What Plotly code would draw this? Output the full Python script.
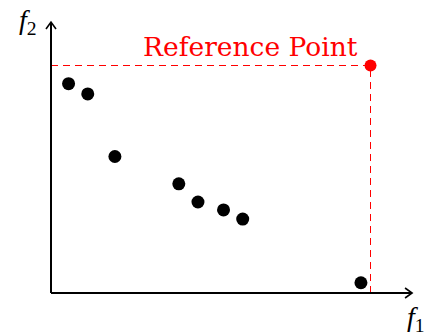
import plotly.graph_objects as go

# Objective values of the candidate solutions (f1, f2)
f1_values = [0.55, 1.15, 2.0, 4.0, 4.6, 5.4, 6.0, 9.7]
f2_values = [9.2, 8.75, 6.0, 4.8, 4.0, 3.65, 3.25, 0.45]

# Reference point used for the hypervolume
ref_f1 = 10.0
ref_f2 = 10.0
ref_label = "Reference Point"

# Axis extents (the arrows stop at these values)
x_tip = 11.30
y_tip = 11.91
x_range = [-1.596, 11.674]
y_range = [-1.890, 12.879]

# Pixel scale of the plotting area, used for the arrow heads
W, H = 424, 336
px_x = W / (x_range[1] - x_range[0])
px_y = H / (y_range[1] - y_range[0])
head_len, head_half = 7, 5

label_font = "DejaVu Serif, serif"
math_font = "Liberation Serif, serif"

fig = go.Figure()

fig.add_trace(go.Scatter(
    x=f1_values, y=f2_values, mode="markers",
    marker=dict(color="black", size=13),
    showlegend=False, hoverinfo="skip",
))
fig.add_trace(go.Scatter(
    x=[ref_f1], y=[ref_f2], mode="markers",
    marker=dict(color="#ff0000", size=12),
    showlegend=False, hoverinfo="skip",
))

shapes = []
dash_line = dict(color="#ff0000", width=1, dash="7px,5px")
shapes.append(dict(type="line", x0=0, y0=ref_f2, x1=ref_f1, y1=ref_f2,
                   line=dash_line, layer="below"))
shapes.append(dict(type="line", x0=ref_f1, y0=0, x1=ref_f1, y1=ref_f2,
                   line=dash_line, layer="below"))

axis_line = dict(color="black", width=2)
shapes.append(dict(type="line", x0=0, y0=0, x1=x_tip, y1=0, line=axis_line))
shapes.append(dict(type="line", x0=0, y0=0, x1=0, y1=y_tip, line=axis_line))

# Open arrow heads
hx = head_len / px_x
hy = head_half / px_y
shapes.append(dict(type="path",
                   path=f"M {x_tip - hx} {hy} L {x_tip} 0 L {x_tip - hx} {-hy}",
                   line=dict(color="black", width=1.6)))
vy = head_len / px_y
vx = head_half / px_x
shapes.append(dict(type="path",
                   path=f"M {-vx} {y_tip - vy} L 0 {y_tip} L {vx} {y_tip - vy}",
                   line=dict(color="black", width=1.6)))

annotations = [
    dict(x=ref_f1, y=ref_f2, xref="x", yref="y", text=ref_label,
         showarrow=False, xanchor="right", yanchor="bottom",
         xshift=-11, yshift=1,
         font=dict(family=label_font, size=26.5, color="#ff0000")),
    dict(x=x_tip, y=0, xref="x", yref="y", text="<i>f</i><sub>1</sub>",
         showarrow=False, xanchor="center", yanchor="top",
         xshift=4, yshift=-6,
         font=dict(family=math_font, size=28, color="black")),
    dict(x=0, y=y_tip, xref="x", yref="y", text="<i>f</i><sub>2</sub>",
         showarrow=False, xanchor="right", yanchor="middle",
         xshift=-12, yshift=1,
         font=dict(family=math_font, size=28, color="black")),
]

fig.update_layout(
    width=W, height=H,
    margin=dict(l=0, r=0, t=0, b=0),
    paper_bgcolor="white", plot_bgcolor="white",
    xaxis=dict(range=x_range, visible=False, fixedrange=True),
    yaxis=dict(range=y_range, visible=False, fixedrange=True),
    shapes=shapes, annotations=annotations,
)

fig.write_html("out.html")
